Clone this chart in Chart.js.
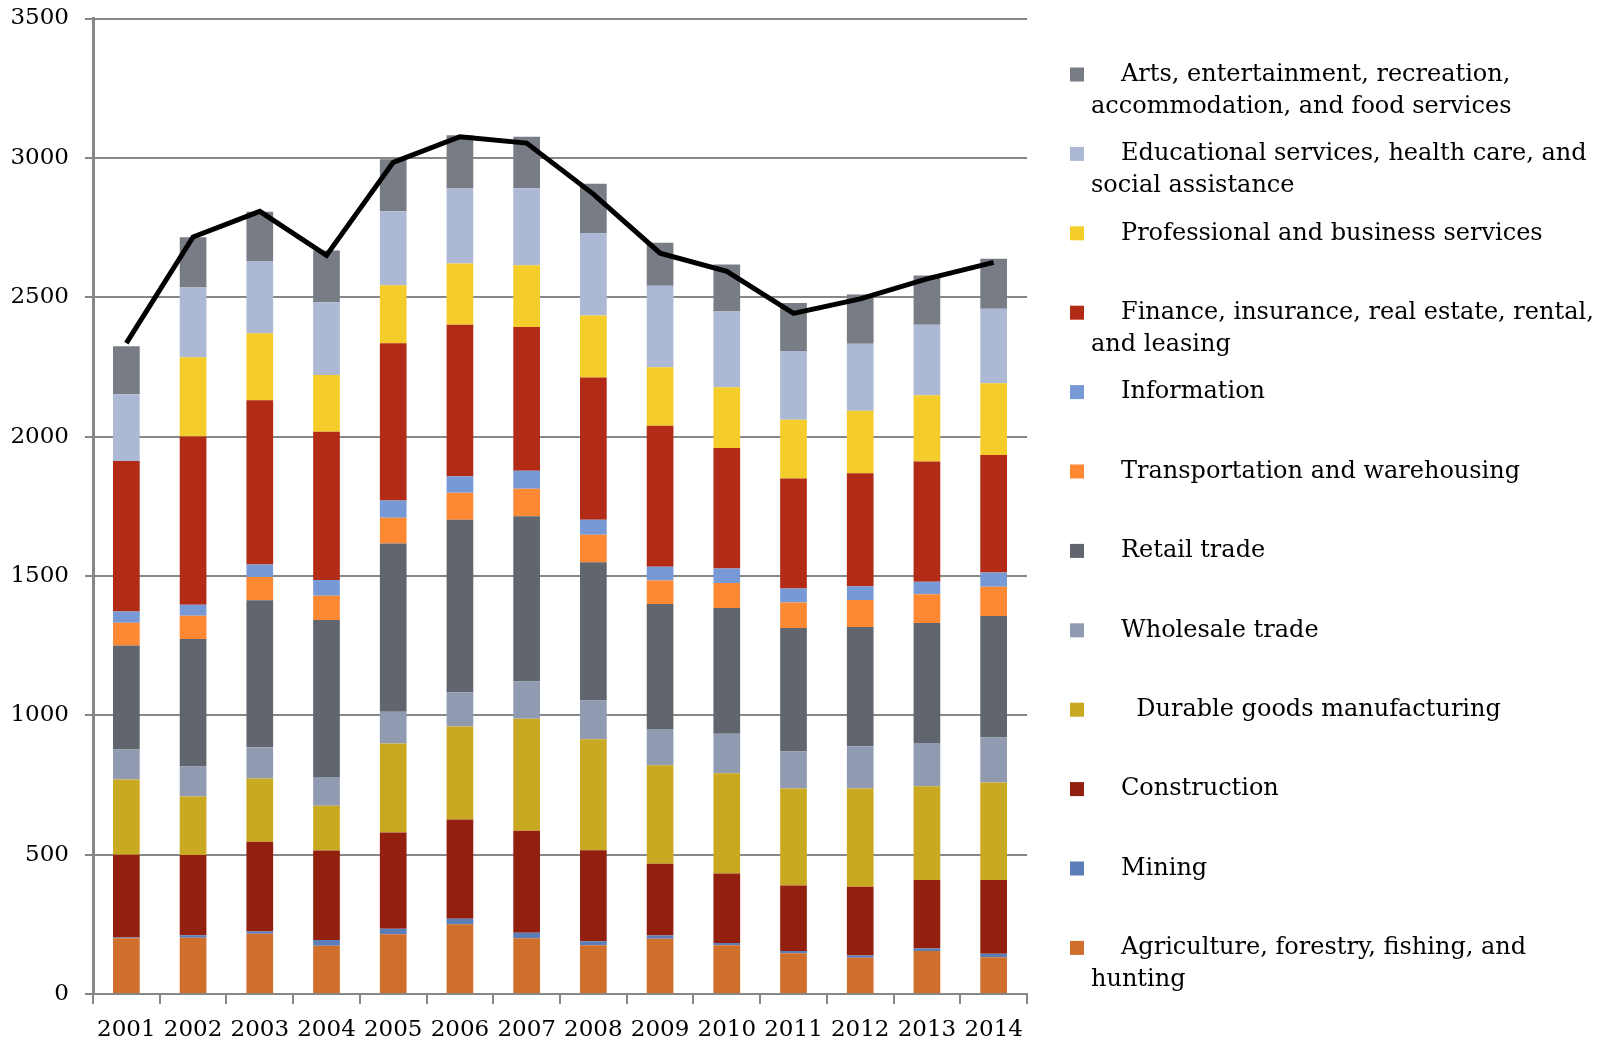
<!DOCTYPE html>
<html>
<head>
<meta charset="utf-8">
<script src="https://cdn.jsdelivr.net/npm/chart.js@4.4.1/dist/chart.umd.min.js"></script>
<style>
  html, body { margin: 0; padding: 0; background: #fff; }
  #wrap { width: 1606px; height: 1041px; }
</style>
</head>
<body>
<div id="wrap"><canvas id="chart"></canvas></div>
<script>
// years on the x axis
var years = ["2001", "2002", "2003", "2004", "2005", "2006", "2007", "2008", "2009", "2010", "2011", "2012", "2013", "2014"];

// series values, bottom of the stack first
var agriculture   = [200, 202, 216, 173, 214, 250, 200, 175, 198, 175, 146, 130, 154, 132];
var mining        = [3, 9, 8, 21, 20, 20, 20, 14, 12, 8, 8, 8, 9, 12];
var construction  = [297, 288, 322, 321, 345, 356, 366, 327, 257, 249, 235, 247, 246, 265];
var durable       = [270, 210, 227, 160, 320, 334, 402, 398, 354, 360, 348, 352, 336, 350];
var wholesale     = [107, 107, 112, 104, 114, 123, 133, 139, 130, 142, 133, 152, 156, 161];
var retail        = [373, 458, 528, 563, 603, 619, 593, 496, 448, 451, 443, 428, 430, 436];
var transport     = [82, 83, 83, 87, 93, 96, 99, 99, 85, 90, 92, 97, 103, 105];
var information   = [40, 40, 45, 56, 62, 60, 64, 54, 49, 52, 50, 49, 45, 51];
var finance       = [540, 603, 589, 532, 564, 543, 516, 510, 506, 432, 395, 405, 432, 422];
var professional  = [0, 285, 241, 204, 208, 220, 222, 222, 210, 218, 210, 225, 237, 257];
var educational   = [240, 250, 259, 261, 265, 269, 276, 296, 292, 272, 247, 240, 253, 268];
var arts          = [172, 180, 177, 186, 187, 191, 185, 177, 154, 168, 172, 177, 177, 179];

// black line
var total = [2335, 2716, 2808, 2650, 2984, 3076, 3053, 2870, 2658, 2593, 2442, 2494, 2566, 2625];

// y axis ticks
var yTicks = [0, 500, 1000, 1500, 2000, 2500, 3000, 3500];

// legend names, as they wrap in the legend
var names = [
  ["Agriculture, forestry, fishing, and", "hunting"],
  ["Mining"],
  ["Construction"],
  ["  Durable goods manufacturing"],
  ["Wholesale trade"],
  ["Retail trade"],
  ["Transportation and warehousing"],
  ["Information"],
  ["Finance, insurance, real estate, rental,", "and leasing"],
  ["Professional and business services"],
  ["Educational services, health care, and", "social assistance"],
  ["Arts, entertainment, recreation,", "accommodation, and food services"]
];
var values = [agriculture, mining, construction, durable, wholesale, retail,
              transport, information, finance, professional, educational, arts];
var colors = ["#D06E2C", "#5B7DB8", "#93200F", "#C9A922", "#909AB0", "#61666E",
              "#FF8833", "#7799D6", "#B22B16", "#F4CD2B", "#ADB8D4", "#787C85"];

var FONT = '"DejaVu Serif", serif';

var datasets = [{
  type: "line",
  label: "Total",
  data: total,
  borderColor: "#000",
  borderWidth: 5,
  pointRadius: 0,
  tension: 0,
  stack: "line",
  order: 0
}];
values.forEach(function(v, i){
  datasets.push({
    type: "bar",
    label: names[i].join(" ").trim(),
    legendLines: names[i],
    data: v,
    backgroundColor: colors[i],
    borderWidth: 0,
    stack: "bars",
    order: 1,
    barPercentage: 0.4,
    categoryPercentage: 1
  });
});

// legend drawn on the right, top item first
var sideLegend = {
  id: "sideLegend",
  afterDraw: function(chart){
    var ctx = chart.ctx;
    ctx.save();
    ctx.font = "24px " + FONT;
    ctx.textBaseline = "middle";
    var items = chart.data.datasets.filter(function(d){ return d.type === "bar"; }).slice().reverse();
    items.forEach(function(ds, i){
      var y = 74.5 + i * 79.4;
      ctx.fillStyle = ds.backgroundColor;
      ctx.fillRect(1070, y - 7, 14, 14);
      ctx.fillStyle = "#000";
      ds.legendLines.forEach(function(line, j){
        ctx.fillText(line, j === 0 ? 1121 : 1091, y + j * 32);
      });
    });
    ctx.restore();
  }
};

var chart = new Chart(document.getElementById("chart"), {
  data: { labels: years, datasets: datasets },
  options: {
    responsive: true,
    maintainAspectRatio: false,
    animation: false,
    layout: { padding: { left: 0, top: 18.5, right: 579, bottom: 0 } },
    plugins: {
      legend: { display: false },
      tooltip: { enabled: false }
    },
    scales: {
      x: {
        stacked: true,
        grid: { drawOnChartArea: false, drawTicks: true, tickLength: 10, color: "#878787", lineWidth: 2 },
        border: { color: "#878787", width: 2 },
        ticks: { color: "#000", font: { family: FONT, size: 23 }, padding: 12, autoSkip: false, maxRotation: 0 },
        afterFit: function(s){ s.height = 47; }
      },
      y: {
        stacked: true,
        min: 0,
        max: 3500,
        afterBuildTicks: function(s){ s.ticks = yTicks.map(function(v){ return { value: v }; }); },
        grid: { color: "#878787", lineWidth: 2, tickLength: 8 },
        border: { color: "#878787", width: 3 },
        ticks: {
          color: "#000",
          font: { family: FONT, size: 23 },
          padding: 16,
          callback: function(v){ return String(v); }
        },
        afterFit: function(s){ s.width = 93; s.paddingTop = 0; s.paddingBottom = 0; }
      }
    }
  },
  plugins: [sideLegend]
});
</script>
</body>
</html>
